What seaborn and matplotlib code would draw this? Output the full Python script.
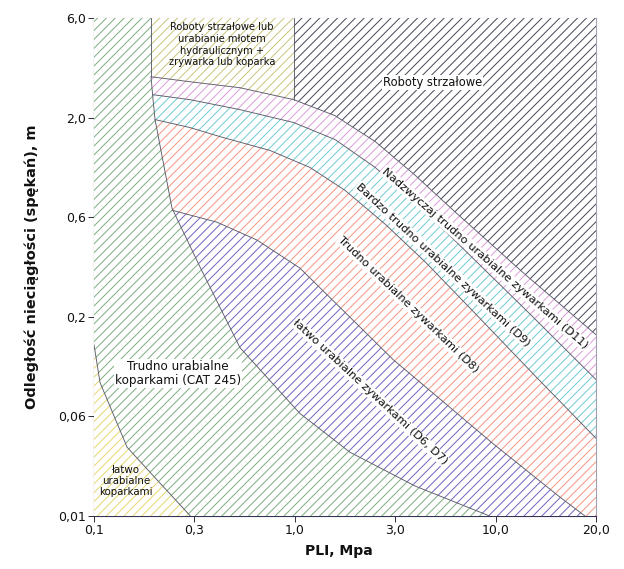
import numpy as np
import pandas as pd
import matplotlib
matplotlib.use("Agg")
import matplotlib.pyplot as plt
import seaborn as sns

# ---------------- data (axis index units: ticks equally spaced) ----------------
x_tick_labels = ["0,1", "0,3", "1,0", "3,0", "10,0", "20,0"]
y_tick_labels = ["0,01", "0,06", "0,2", "0,6", "2,0", "6,0"]

# boundary curves (x index, y index)
top_x = [0.568, 0.956, 1.454, 1.99, 2.4, 2.8, 3.2, 3.6, 4.3, 5.0]
top_y = [4.41, 4.36, 4.30, 4.18, 4.02, 3.76, 3.42, 3.05, 2.42, 1.82]

d9_x = [0.588, 0.956, 1.454, 1.99, 2.4, 2.8, 3.2, 3.6, 4.3, 5.0]
d9_y = [4.23, 4.18, 4.08, 3.95, 3.78, 3.50, 3.15, 2.76, 2.07, 1.37]

d8_x = [0.608, 0.956, 1.285, 1.753, 2.15, 2.5, 2.9, 3.3, 3.8, 4.4, 5.0]
d8_y = [3.98, 3.90, 3.80, 3.67, 3.50, 3.27, 2.93, 2.55, 2.03, 1.40, 0.78]

d6_x = [0.777, 1.225, 1.624, 2.05, 2.98, 3.97, 4.64, 4.89]
d6_y = [3.07, 2.95, 2.77, 2.49, 1.57, 0.73, 0.19, 0.0]

green_x = [0.568, 0.588, 0.608, 0.777, 1.056, 1.454, 2.05, 2.55, 3.2, 3.94]
green_y = [4.41, 4.18, 3.98, 3.09, 2.50, 1.69, 1.03, 0.64, 0.30, 0.0]

easy_x = [0.0, 0.06, 0.33, 0.63, 0.96]
easy_y = [1.72, 1.34, 0.69, 0.36, 0.0]

blast_split_x = 1.99

labels = {
    "top": "Roboty strzałowe lub\nurabianie młotem\nhydraulicznym +\nzrywarka lub koparka",
    "blast": "Roboty strzałowe",
    "d11": "Nadzwyczaj trudno urabialne zywarkami (D11)",
    "d9": "Bardzo trudno urabialne zywarkami (D9)",
    "d8": "Trudno urabialne zywarkami (D8)",
    "d6": "łatwo urabialne zywarkami (D6, D7)",
    "cat": "Trudno urabialne\nkoparkami (CAT 245)",
    "easy": "łatwo\nurabialne\nkoparkami",
}

# ---------------- style ----------------
sns.set_theme(style="white")
plt.rcParams["font.family"] = ["DejaVu Sans"]
plt.rcParams["hatch.linewidth"] = 0.9

fig = plt.figure(figsize=(624 / 80, 569 / 80), dpi=80)
ax = fig.add_axes([94 / 624, 1 - 516 / 569, 502 / 624, 498 / 569])
ax.set_xlim(0, 5)
ax.set_ylim(0, 5)

def region(xs, ys, color, z):
    ax.fill(xs, ys, facecolor="white", edgecolor=color, hatch="///",
            linewidth=0, zorder=z)

# pink (D11) : below top curve
region(top_x + [5, top_x[0]], top_y + [0, 0], "#dc9ed9", 1)
# cyan (D9)
region(d9_x + [5, d9_x[0]], d9_y + [0, 0], "#72cdd0", 2)
# red (D8)
region(d8_x + [5, d8_x[0]], d8_y + [0, 0], "#f49883", 3)
# purple (D6, D7)
region(d6_x + [d6_x[0]], d6_y + [0], "#7666c2", 4)
# green (koparki CAT 245)
region([0, green_x[0]] + green_x + [0], [5, 5] + green_y + [0], "#7fae80", 5)
# yellow bottom-left
region(easy_x + [0], easy_y + [0], "#e6d874", 6)
# top yellow region
tx = [v for v in top_x if v <= blast_split_x]
ty = top_y[:len(tx)]
region([tx[0]] + tx + [blast_split_x], [5] + ty + [5], "#c9c67e", 6)
# black hatched region
bx = [v for v in top_x if v >= blast_split_x]
by = top_y[len(top_x) - len(bx):]
region([blast_split_x] + bx + [5], [5] + by + [5], "#4a4a5a", 6)

# boundary lines
line_kw = dict(color="#5a5a6a", linewidth=0.8, sort=False, estimator=None,
               legend=False, ax=ax, zorder=8)
for xs, ys in [(top_x, top_y), (d9_x, d9_y), (d8_x, d8_y), (d6_x, d6_y),
               (green_x, green_y), (easy_x, easy_y),
               ([blast_split_x, blast_split_x], [top_y[3], 5]),
               ([top_x[0], top_x[0]], [top_y[0], 5])]:
    sns.lineplot(data=pd.DataFrame({"x": xs, "y": ys}), x="x", y="y", **line_kw)

# labels
box = dict(facecolor="white", edgecolor="none", pad=0.8)
tk = dict(ha="center", va="center", color="#111111", zorder=10)
ax.text(1.275, 4.73, labels["top"], fontsize=8.9, linespacing=1.2, **tk)
ax.text(3.37, 4.35, labels["blast"], fontsize=10.4, bbox=box, **tk)
ax.text(3.89, 2.59, labels["d11"], fontsize=10.3, rotation=-41, bbox=box,
        rotation_mode="anchor", **tk)
ax.text(3.48, 2.52, labels["d9"], fontsize=10.3, rotation=-43, bbox=box,
        rotation_mode="anchor", **tk)
ax.text(3.13, 2.12, labels["d8"], fontsize=10.3, rotation=-44, bbox=box,
        rotation_mode="anchor", **tk)
ax.text(2.75, 1.245, labels["d6"], fontsize=10.3, rotation=-43, bbox=box,
        rotation_mode="anchor", **tk)
ax.text(0.837, 1.43, labels["cat"], fontsize=10.8, linespacing=1.15, bbox=box, **tk)
ax.text(0.32, 0.35, labels["easy"], fontsize=9.2, linespacing=1.1, **tk)

# axes, ticks
ax.set_xticks(range(len(x_tick_labels)))
ax.set_xticklabels(x_tick_labels)
ax.set_yticks(range(len(y_tick_labels)))
ax.set_yticklabels(y_tick_labels)
ax.tick_params(axis="both", which="major", direction="out", length=5, width=0.9,
               color="#333344", labelsize=11.3, labelcolor="#111111", pad=2,
               left=True, bottom=True)
for s in ["left", "bottom"]:
    ax.spines[s].set_color("#333355")
    ax.spines[s].set_linewidth(1.0)
for s in ["top", "right"]:
    ax.spines[s].set_color("#a0a0b0")
    ax.spines[s].set_linewidth(1.0)
ax.grid(False)

ax.set_xlabel("PLI, Mpa", fontsize=12.6, fontweight="bold", color="#111111")
ax.set_ylabel("Odległość nieciągłości (spękań), m", fontsize=13, fontweight="bold",
              color="#111111")
ax.xaxis.label.set_va("center")
ax.yaxis.label.set_va("center")
ax.xaxis.set_label_coords(0.487, (516 - 551) / 498)
ax.yaxis.set_label_coords((32 - 94) / 502, 0.5)

fig.savefig("out.png", dpi=80)
